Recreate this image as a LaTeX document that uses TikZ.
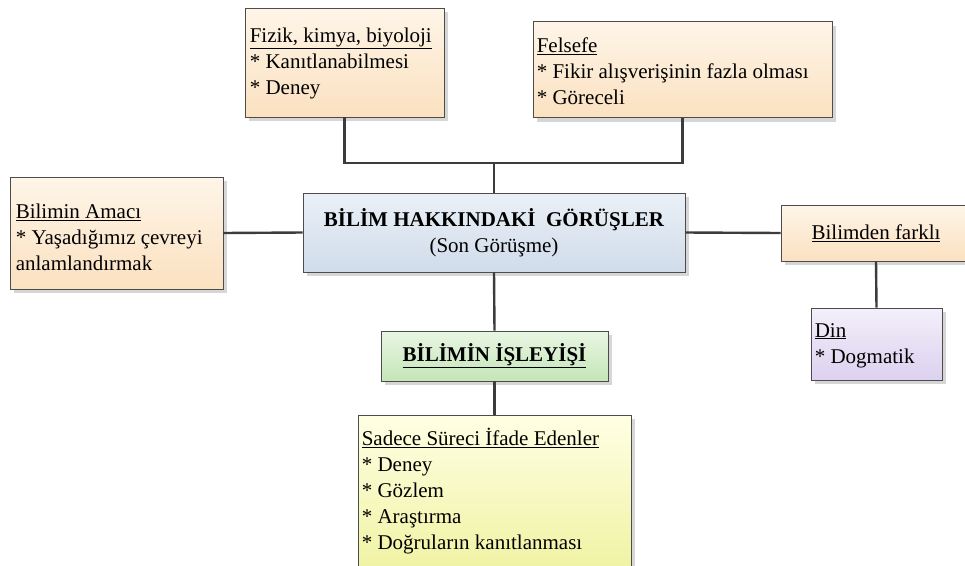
\documentclass[tikz,border=0pt]{standalone}
\usepackage{fontspec}
\setmainfont{Liberation Serif}
\usetikzlibrary{shadows}
\definecolor{orTop}{HTML}{FEF5E8}
\definecolor{orBot}{HTML}{FBE1C0}
\definecolor{blTop}{HTML}{EAF0F7}
\definecolor{blBot}{HTML}{D0DCEA}
\definecolor{grTop}{HTML}{E9F6E3}
\definecolor{grBot}{HTML}{C4E6B8}
\definecolor{yeTop}{HTML}{FFFFE4}
\definecolor{yeBot}{HTML}{F0F3A4}
\definecolor{puTop}{HTML}{F3EFFA}
\definecolor{puBot}{HTML}{DCD1EF}
\definecolor{linec}{HTML}{3C3C3C}
\tikzset{
  box/.style={draw=black!70, line width=0.8pt, rectangle, inner sep=0pt,
    drop shadow={shadow xshift=4pt,shadow yshift=-4pt,fill=black!16,opacity=1}},
  orbox/.style={box, top color=orTop, bottom color=orBot},
  txt/.style={inner sep=0pt, align=left, anchor=west, font=\fontsize{21}{26}\selectfont},
  ctxt/.style={inner sep=0pt, align=center, font=\fontsize{21}{26}\selectfont},
  link/.style={draw=linec, line width=2.4pt},
}
\begin{document}
\begin{tikzpicture}[x=1pt,y=-1pt]
\clip (0,0) rectangle (965,565);
\fill[white] (0,0) rectangle (965,565);
% central
\node[box, top color=blTop, bottom color=blBot, minimum width=382pt, minimum height=79pt] (central) at (494,232.5) {};
\node[ctxt] (centralT) at (central.center) {\textbf{BİLİM HAKKINDAKİ\ \ GÖRÜŞLER}\\(Son Görüşme)};
% top boxes
\node[orbox, minimum width=199pt, minimum height=109pt] (fizik) at (344.5,62.5) {};
\node[txt] (fizikT) at ([xshift=5pt,yshift=-0.5pt]fizik.west) {\underline{Fizik, kimya, biyoloji}\\{}* Kanıtlanabilmesi\\{}* Deney};
\node[orbox, minimum width=299pt, minimum height=96pt] (felsefe) at (682.5,69.5) {};
\node[txt] (felsefeT) at ([xshift=4pt,yshift=-1.5pt]felsefe.west) {\underline{Felsefe}\\{}* Fikir alışverişinin fazla olması\\{}* Göreceli};
% left box
\node[orbox, minimum width=213pt, minimum height=112pt] (amac) at (116.5,233) {};
\node[txt] (amacT) at ([xshift=6pt,yshift=-4pt]amac.west) {\underline{Bilimin Amacı}\\{}* Yaşadığımız çevreyi\\anlamlandırmak};
% right boxes
\node[orbox, minimum width=190pt, minimum height=56pt] (farkli) at (876,233) {};
\node[ctxt] (farkliT) at (farkli.center) {\underline{Bilimden farklı}};
\node[box, top color=puTop, bottom color=puBot, minimum width=131pt, minimum height=72pt] (din) at (876.5,344) {};
\node[txt] (dinT) at ([xshift=4pt,yshift=-1.5pt]din.west) {\underline{Din}\\{}* Dogmatik};
% bottom boxes
\node[box, top color=grTop, bottom color=grBot, minimum width=227pt, minimum height=50pt] (isleyis) at (494.5,356) {};
\node[ctxt] (isleyisT) at (isleyis.center) {\textbf{\underline{BİLİMİN İŞLEYİŞİ}}};
\node[box, top color=yeTop, bottom color=yeBot, minimum width=273pt, minimum height=152pt] (surec) at (494.5,491) {};
\node[txt] (surecT) at ([xshift=4pt]surec.west) {\underline{Sadece Süreci İfade Edenler}\\{}* Deney\\{}* Gözlem\\{}* Araştırma\\{}* Doğruların kanıtlanması};
% connectors
\coordinate (j) at (494,163);
\draw[link] (fizik.south) -- (fizik.south |- j) -- (felsefe.south |- j) -- (felsefe.south);
\draw[link] (central.north) -- (j);
\draw[link] (central.west) -- (amac.east);
\draw[link] (central.east) -- (farkli.west);
\draw[link] (farkli.south) -- (din.north);
\draw[link] (central.south) -- (isleyis.north);
\draw[link] (isleyis.south) -- (surec.north);
\end{tikzpicture}
\end{document}
